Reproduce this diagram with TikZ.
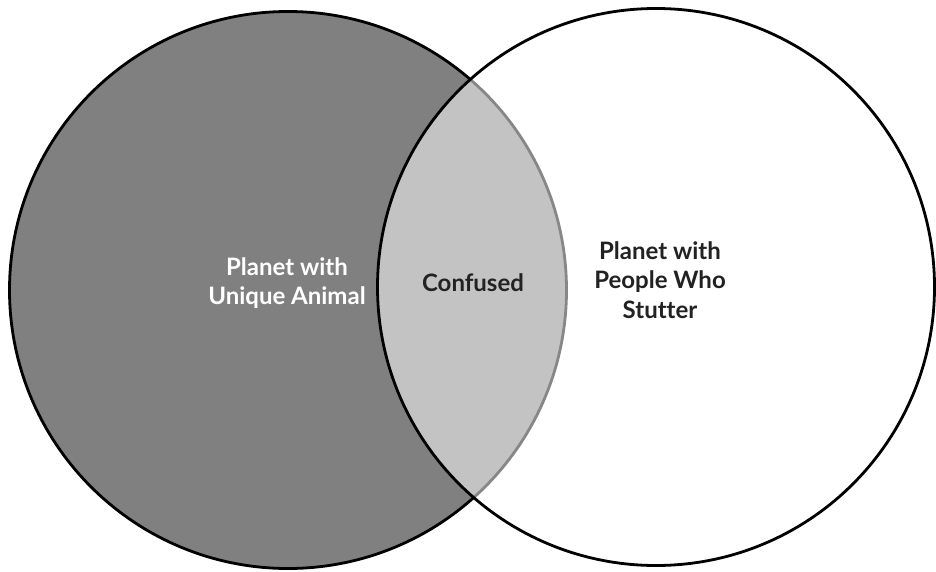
\documentclass[tikz,border=0pt]{standalone}
\usepackage{fontspec}
\setmainfont{Lato}[Ligatures=NoCommon]
\usepackage{tikz}
\usetikzlibrary{positioning}
\definecolor{planetgray}{HTML}{808080}
\definecolor{textdark}{HTML}{222222}

\begin{document}
\begin{tikzpicture}[
  x=1pt, y=-1pt,
  setcircle/.style={circle, draw=black, line width=2.8pt, inner sep=0pt, minimum size=557pt},
  settext/.style={align=center, font=\fontsize{24}{29.5}\selectfont\bfseries}
]
  \useasboundingbox (0,0) rectangle (936,572);

  \node[setcircle, fill=planetgray] (animal) at (288,290) {};
  \node[setcircle, fill=white, fill opacity=0.53] (stutter) at (656,287) {};

  \node[settext, text=white] (animaltext) at (287,283) {Planet with\\Unique Animal};
  \node[settext, text=textdark] (confused) at (473,283) {Confused};
  \node[settext, text=textdark] (stuttertext) at (660,280) {Planet with\\People Who\\Stutter};
\end{tikzpicture}
\end{document}
